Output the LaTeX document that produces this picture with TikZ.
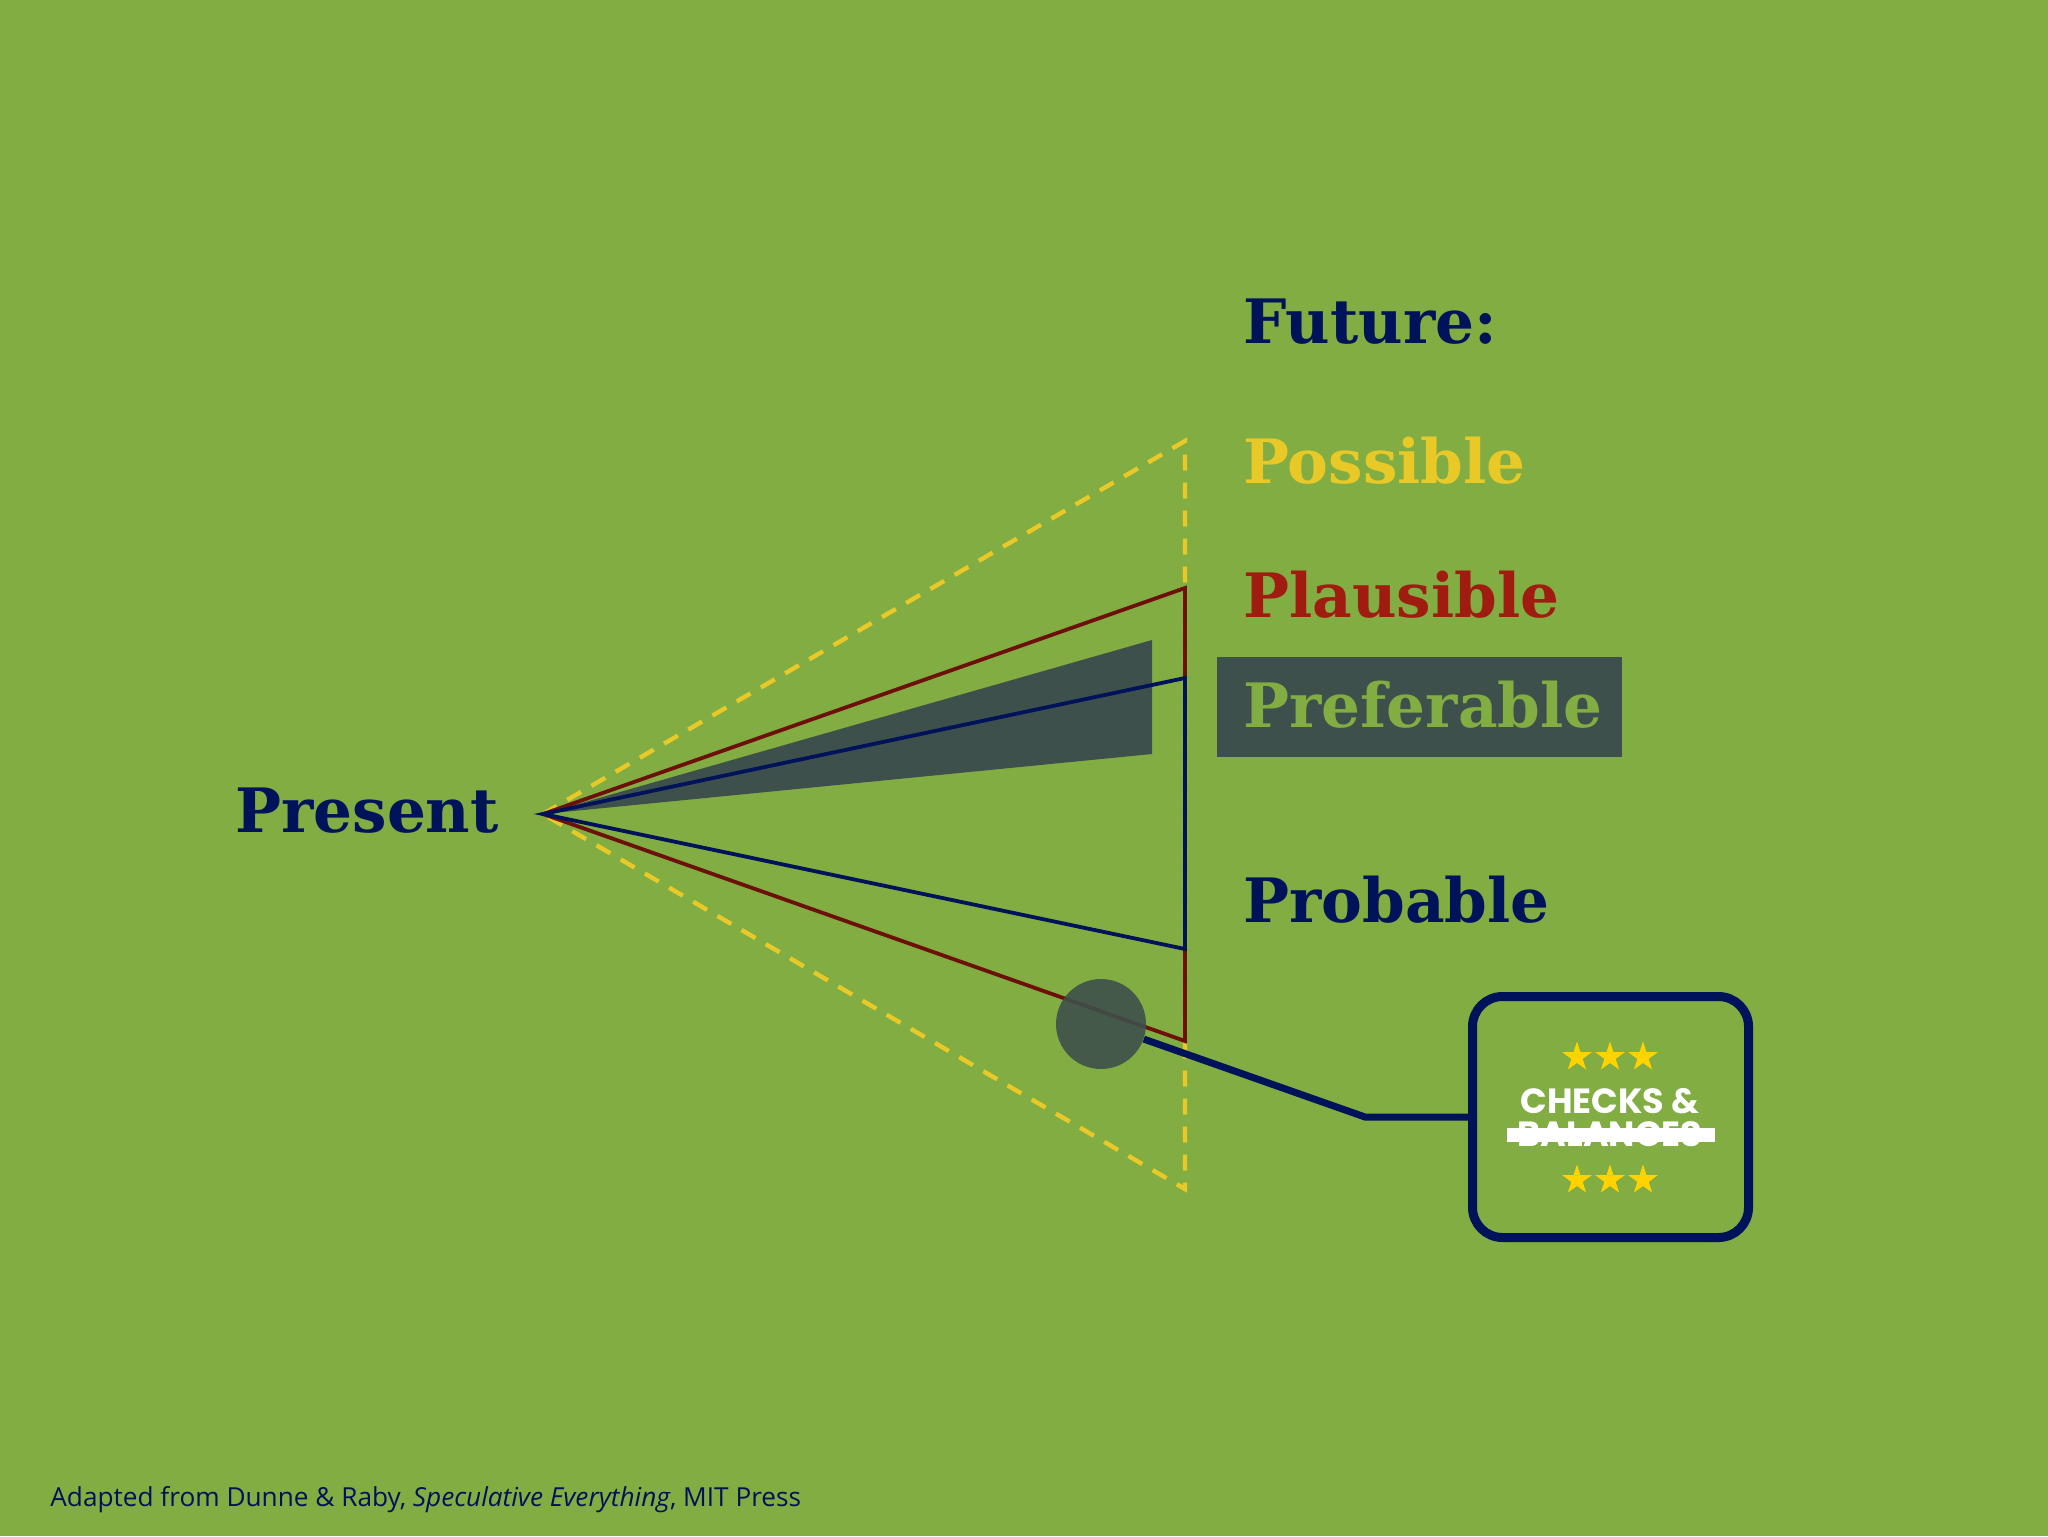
\documentclass[tikz,border=0pt]{standalone}
\usepackage{fontspec}
\setmainfont{DejaVu Serif}
\newfontfamily\geofont{Poppins}
\newfontfamily\notefont{Open Sans}
\usetikzlibrary{shapes.geometric, positioning, calc}
\definecolor{futuregreen}{RGB}{130, 173, 66}
\definecolor{futurenavy}{RGB}{0, 18, 90}
\definecolor{futuregold}{RGB}{232, 201, 40}
\definecolor{futurered}{RGB}{160, 28, 16}
\definecolor{futuremaroon}{RGB}{110, 16, 10}
\definecolor{futureslate}{RGB}{62, 80, 75}
\definecolor{stargold}{RGB}{255, 210, 0}

\begin{document}
\begin{tikzpicture}[x=0.5pt, y=-0.5pt,
    label/.style={anchor=base west, inner sep=0pt, font=\bfseries\fontsize{30.6}{36}\selectfont},
    cone/.style={line width=1.9pt, line join=miter},
    star5/.style={star, star points=5, star point ratio=2.6, fill=stargold, draw=none, inner sep=0pt, minimum size=15.5pt},
    badge/.style={anchor=base, inner sep=0pt, text=white, font=\geofont\bfseries\fontsize{17.5}{20}\selectfont}
]
% Canvas
\fill[futuregreen] (0,0) rectangle (2048,1536);
\useasboundingbox (0,0) rectangle (2048,1536);

% Cone of futures
\coordinate (apex) at (543,814);
\fill[futureslate] (apex) -- (1152,640) -- (1152,754) -- cycle;
\draw[futuregold, line width=2.2pt, dash pattern=on 8pt off 6pt] (apex) -- (1185,441) -- (1185,1189) -- cycle;
\draw[futuremaroon, cone] (apex) -- (1185,588) -- (1185,1041) -- cycle;
\draw[futurenavy, cone] (apex) -- (1185,678) -- (1185,949) -- cycle;

% Labels
\node[label, text=futurenavy] (present) at (235,832) {Present};
\node[label, text=futurenavy] (future) at (1243,343) {Future:};
\node[label, text=futuregold] (possible) at (1243,483) {Possible};
\node[label, text=futurered] (plausible) at (1243,617) {Plausible};
\fill[futureslate] (1217,657) rectangle (1622,757);
\node[label, text=futuregreen] (preferable) at (1243,727) {Preferable};
\node[label, text=futurenavy] (probable) at (1243,922) {Probable};

% Checks and balances
\node[circle, fill=futureslate, fill opacity=0.9, minimum size=45pt] (hub) at (1101,1024) {};
\coordinate (elbow) at (1365,1117);
\node[draw=futurenavy, line width=4.5pt, rounded corners=15pt, minimum width=138pt, minimum height=120.5pt] (checks) at (1610.5,1117) {};
\draw[futurenavy, line width=3.5pt] (hub) -- (elbow) -- (checks.west);
\foreach \sx in {1577,1610,1643} {
  \node[star5] at (\sx,1057) {};
  \node[star5] at (\sx,1180) {};
}
\node[badge] (checkstext) at (1610,1113) {CHECKS \&};
\node[badge] (balances) at (1610,1146) {BALANCES};
\fill[white] (1507,1128) rectangle (1715,1142);

% Credit
\node[anchor=base west, inner sep=0pt, text=futurenavy, font=\notefont\fontsize{13.1}{16}\selectfont] (credit) at (50,1506) {Adapted from Dunne \& Raby, \textit{Speculative Everything}, MIT Press};
\end{tikzpicture}
\end{document}
